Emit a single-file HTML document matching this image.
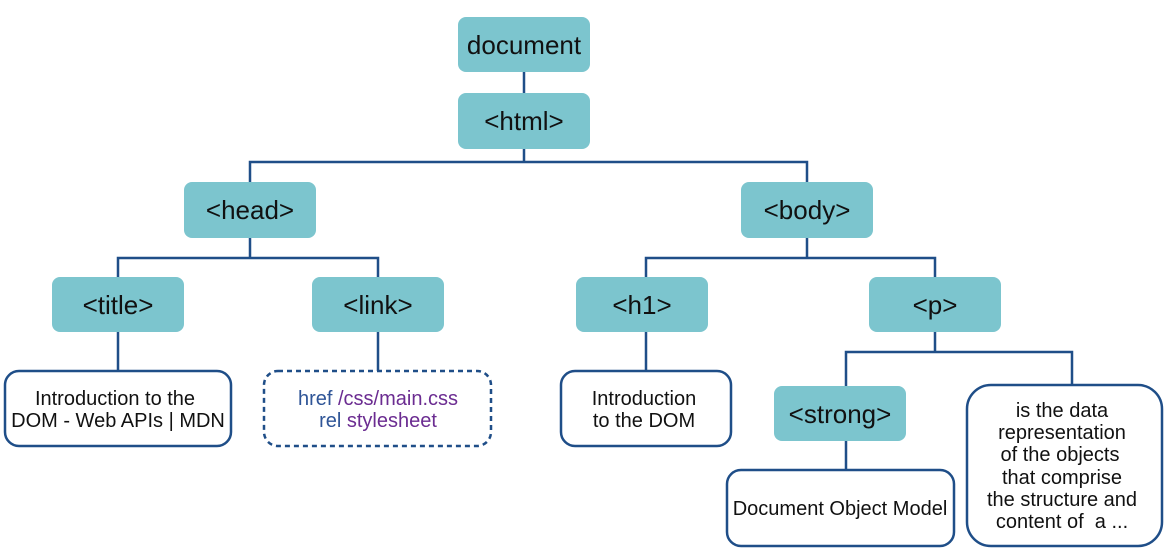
<!DOCTYPE html>
<html><head><meta charset="utf-8"><style>
body{margin:0;background:#fff;width:1169px;height:552px;overflow:hidden}
svg text{font-family:"Liberation Sans",sans-serif}
.n{fill:#7cc5ce}
.t{font-size:26px;fill:#111;text-anchor:middle}
.s{font-size:20px;fill:#111;text-anchor:middle}
.w{fill:#fff;stroke:#1f4e88;stroke-width:2.5}
</style></head><body>
<svg width="1169" height="552" xmlns="http://www.w3.org/2000/svg">
<g stroke="#1f4e88" stroke-width="2.5" fill="none">
<path d="M524 72V93M524 149V162M250 182V162H807V182"/>
<path d="M250 238V258M118 277V258H378V277M118 332V371M378 332V371"/>
<path d="M807 238V258M646 277V258H935V277M646 332V371"/>
<path d="M935 332V352M846 386V352H1072V385M846 441V470"/>
</g>
<rect class="n" x="458" y="17" width="132" height="55" rx="8"/><text class="t" x="524" y="54">document</text>
<rect class="n" x="458" y="93" width="132" height="56" rx="8"/><text class="t" x="524" y="130">&lt;html&gt;</text>
<rect class="n" x="184" y="182" width="132" height="56" rx="8"/><text class="t" x="250" y="219">&lt;head&gt;</text>
<rect class="n" x="741" y="182" width="132" height="56" rx="8"/><text class="t" x="807" y="219">&lt;body&gt;</text>
<rect class="n" x="52" y="277" width="132" height="55" rx="8"/><text class="t" x="118" y="314">&lt;title&gt;</text>
<rect class="n" x="312" y="277" width="132" height="55" rx="8"/><text class="t" x="378" y="314">&lt;link&gt;</text>
<rect class="n" x="576" y="277" width="132" height="55" rx="8"/><text class="t" x="642" y="314">&lt;h1&gt;</text>
<rect class="n" x="869" y="277" width="132" height="55" rx="8"/><text class="t" x="935" y="314">&lt;p&gt;</text>
<rect class="n" x="774" y="386" width="132" height="55" rx="8"/><text class="t" x="840" y="423">&lt;strong&gt;</text>
<rect class="w" x="5" y="371" width="226" height="75" rx="14"/>
<text class="s" x="115" y="405">Introduction to the</text><text class="s" x="118" y="427">DOM - Web APIs | MDN</text>
<rect class="w" x="264" y="371" width="227" height="75" rx="14" stroke-dasharray="5 4"/>
<text class="s" x="378" y="405"><tspan fill="#2f5597">href </tspan><tspan fill="#6b2c91">/css/main.css</tspan></text>
<text class="s" x="378" y="427"><tspan fill="#2f5597">rel </tspan><tspan fill="#6b2c91">stylesheet</tspan></text>
<rect class="w" x="561" y="371" width="170" height="75" rx="14"/>
<text class="s" x="644" y="405">Introduction</text><text class="s" x="644" y="427">to the DOM</text>
<rect class="w" x="727" y="470" width="227" height="76" rx="14"/>
<text class="s" x="840" y="515">Document Object Model</text>
<rect class="w" x="967" y="385" width="195" height="161" rx="24"/>
<text class="s" x="1062" y="417">is the data</text><text class="s" x="1062" y="439">representation</text><text class="s" x="1060" y="461">of the objects</text><text class="s" x="1062" y="484">that comprise</text><text class="s" x="1062" y="506">the structure and</text><text class="s" x="1062" y="528">content of &#160;a ...</text>
</svg>
</body></html>
